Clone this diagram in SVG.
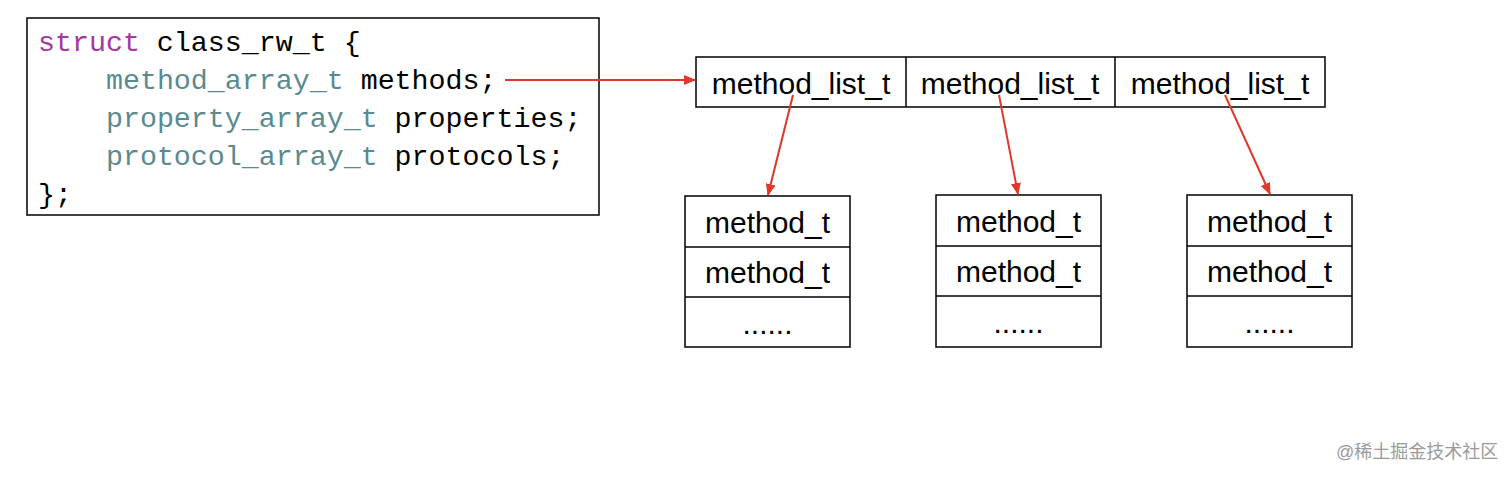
<svg xmlns="http://www.w3.org/2000/svg" width="1512" height="478" viewBox="0 0 1512 478">
<style>
.box{fill:#fff;stroke:#000;stroke-width:1.5}
.ln{stroke:#000;stroke-width:1.5}
.code{font-family:"Liberation Mono","DejaVu Sans Mono",monospace;font-size:28.3px;fill:#000}
.kw{fill:#A5379F}
.ty{fill:#5A8A8F}
.lbl{font-family:"Liberation Sans",Arial,sans-serif;font-size:30px;fill:#000;text-anchor:middle}
.arr{stroke:#E0392B;stroke-width:2;fill:none;marker-end:url(#ah)}
.wm{font-family:"Liberation Sans","Noto Sans CJK SC",sans-serif;font-size:18px;fill:#9a9a9a}
</style>
<defs>
<marker id="ah" viewBox="0 0 12 10" refX="11" refY="5" markerWidth="12" markerHeight="10" markerUnits="userSpaceOnUse" orient="auto">
<path d="M0,0 L12,5 L0,10 z" fill="#E0392B"/>
</marker>
</defs>
<rect width="1512" height="478" fill="#fff"/>
<g id="class_rw_t">
<rect class="box" x="27" y="18" width="572" height="197"/>
<text class="code" x="38" y="51"><tspan class="kw">struct</tspan> class_rw_t {</text>
<text class="code" x="38" y="89" xml:space="preserve">    <tspan class="ty">method_array_t</tspan> methods;</text>
<text class="code" x="38" y="127" xml:space="preserve">    <tspan class="ty">property_array_t</tspan> properties;</text>
<text class="code" x="38" y="165" xml:space="preserve">    <tspan class="ty">protocol_array_t</tspan> protocols;</text>
<text class="code" x="38" y="203">};</text>
</g>
<g id="method_array">
<rect class="box" x="696" y="57" width="629" height="50"/>
<line class="ln" x1="906" y1="57" x2="906" y2="107"/>
<line class="ln" x1="1115" y1="57" x2="1115" y2="107"/>
<text class="lbl" x="801" y="94">method_list_t</text>
<text class="lbl" x="1010" y="94">method_list_t</text>
<text class="lbl" x="1220" y="94">method_list_t</text>
</g>
<g id="list1">
<rect class="box" x="685" y="196" width="165" height="151"/>
<line class="ln" x1="685" y1="247" x2="850" y2="247"/>
<line class="ln" x1="685" y1="297" x2="850" y2="297"/>
<text class="lbl" x="767.5" y="233">method_t</text>
<text class="lbl" x="767.5" y="283">method_t</text>
<text class="lbl" x="767.5" y="334">......</text>
</g>
<g id="list2">
<rect class="box" x="936" y="195" width="165" height="152"/>
<line class="ln" x1="936" y1="246" x2="1101" y2="246"/>
<line class="ln" x1="936" y1="296" x2="1101" y2="296"/>
<text class="lbl" x="1018.5" y="232">method_t</text>
<text class="lbl" x="1018.5" y="282">method_t</text>
<text class="lbl" x="1018.5" y="333">......</text>
</g>
<g id="list3">
<rect class="box" x="1187" y="195" width="165" height="152"/>
<line class="ln" x1="1187" y1="246" x2="1352" y2="246"/>
<line class="ln" x1="1187" y1="296" x2="1352" y2="296"/>
<text class="lbl" x="1269.5" y="232">method_t</text>
<text class="lbl" x="1269.5" y="282">method_t</text>
<text class="lbl" x="1269.5" y="333">......</text>
</g>
<g id="connectors">
<line class="arr" x1="505" y1="80" x2="695" y2="80"/>
<line class="arr" x1="793" y1="95" x2="768" y2="195"/>
<line class="arr" x1="999" y1="95" x2="1018" y2="194"/>
<line class="arr" x1="1225" y1="95" x2="1270" y2="194"/>
</g>
<text class="wm" x="1336" y="458">@稀土掘金技术社区</text>
</svg>
